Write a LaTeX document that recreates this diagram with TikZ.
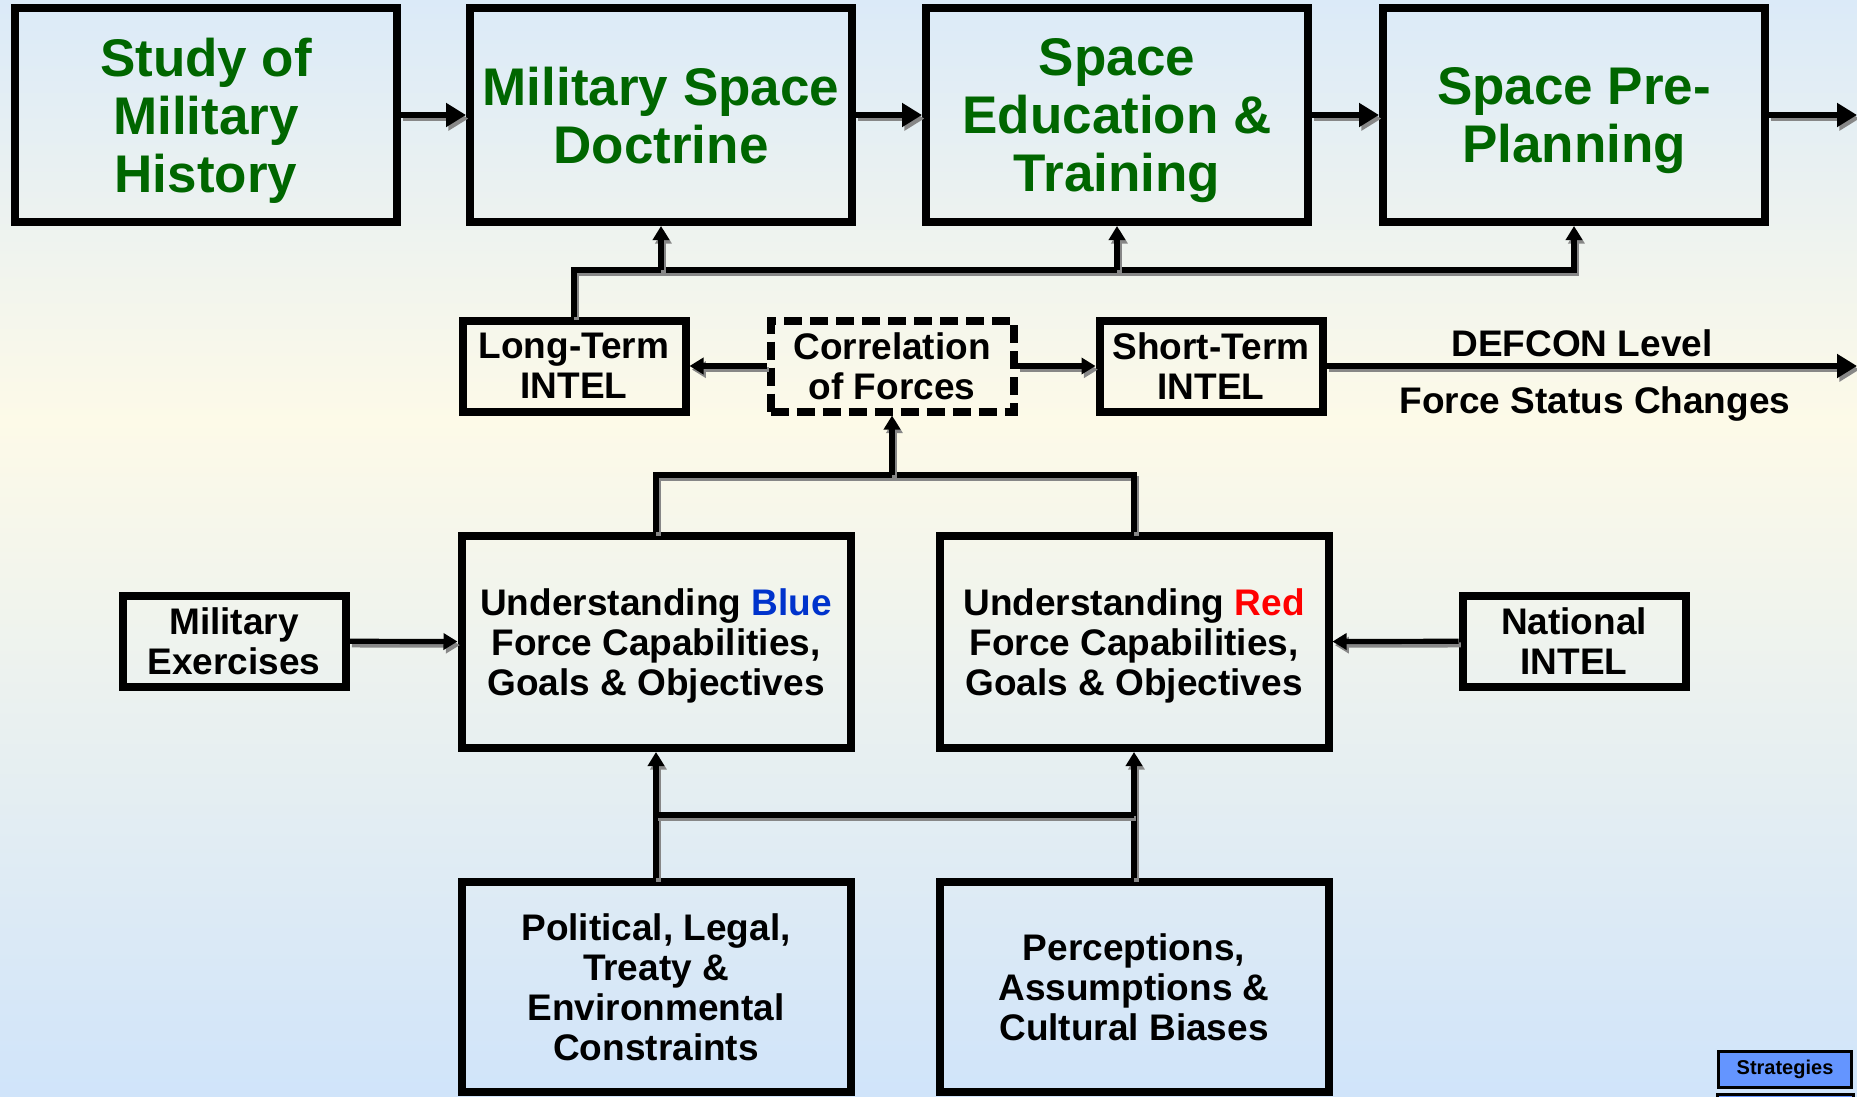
\documentclass[tikz,border=0pt]{standalone}
\usepackage{fontspec}
\setmainfont{Liberation Sans}
\usetikzlibrary{arrows.meta}
\definecolor{bgtop}{RGB}{219,234,248}
\definecolor{bgmid}{RGB}{253,250,232}
\definecolor{bgbot}{RGB}{208,228,250}
\definecolor{titlegreen}{RGB}{0,102,0}
\definecolor{blueword}{RGB}{0,51,204}
\definecolor{redword}{RGB}{255,0,0}
\definecolor{btnblue}{RGB}{100,149,255}
\definecolor{shadowgray}{RGB}{135,135,135}
\begin{document}
\begin{tikzpicture}[x=0.5pt,y=-0.5pt,
  box/.style={draw=black, line width=4pt, inner sep=0pt, align=center, text depth=0pt},
  stage/.style={box, minimum width=191pt, minimum height=107pt, text=titlegreen,
    font={\bfseries\fontsize{26.5pt}{29pt}\selectfont}},
  blk/.style={font={\bfseries\fontsize{18.5pt}{20pt}\selectfont}},
  smallbox/.style={box, blk, minimum width=111.5pt, minimum height=45.5pt},
  corrbox/.style={box, blk, minimum width=121.5pt, minimum height=45.5pt,
    dash pattern=on 9pt off 4pt},
  midbox/.style={box, blk, minimum width=194.5pt, minimum height=106pt},
  lbl/.style={blk, inner sep=0pt},
  btn/.style={draw=black, line width=1.5pt, fill=btnblue, inner sep=0pt,
    minimum width=66.5pt, minimum height=18pt,
    font={\bfseries\fontsize{10pt}{12pt}\selectfont}},
  conn/.style={line width=2.6pt, line join=miter,
    preaction={draw=shadowgray, line width=2.6pt, transform canvas={xshift=1.2pt,yshift=-1.8pt}}},
  bigtip/.style={-{Triangle[length=10pt,width=11.5pt]}},
  tip/.style={-{Triangle[length=7pt,width=8pt]}},
]
\useasboundingbox (0,0) rectangle (1857,1097);
\clip (0,0) rectangle (1857,1097);
% background
\shade[top color=bgtop, bottom color=bgmid] (0,0) rectangle (1857,421);
\shade[top color=bgmid, bottom color=bgbot] (0,420) rectangle (1857,1097);

% top row
\node[stage] (b1) at (206,115) {Study of\\Military\\History};
\node[stage] (b2) at (661,115) {Military Space\\Doctrine};
\node[stage] (b3) at (1117,115) {Space\\Education \&\\Training};
\node[stage] (b4) at (1574,115) {Space Pre-\\Planning};
\coordinate (outtop) at (1857,115);

% intel row
\node[smallbox] (lt) at (574,366) {Long-Term\\INTEL};
\node[corrbox] (cf) at (892,366) {Correlation\\of Forces};
\node[smallbox] (st) at (1211,366) {Short-Term\\INTEL};
\coordinate (outmid) at (1857,366);
\node[lbl] (defcon) at (1582,343) {DEFCON Level};
\node[lbl] (fsc) at (1595,404) {Force Status Changes};

% understanding row
\node[midbox] (blue) at (656,642) {Understanding {\color{blueword}Blue}\\Force Capabilities,\\Goals \& Objectives};
\node[midbox] (red) at (1134,642) {Understanding {\color{redword}Red}\\Force Capabilities,\\Goals \& Objectives};
\node[smallbox] (mx) at (234,641) {Military\\Exercises};
\node[smallbox] (ni) at (1574,641) {National\\INTEL};

% bottom row
\node[midbox, minimum height=105pt] (pol) at (656,987) {Political, Legal,\\Treaty \&\\Environmental\\Constraints};
\node[midbox, minimum height=105pt] (per) at (1134,987) {Perceptions,\\Assumptions \&\\Cultural Biases};

% button
\node[btn] (strat) at (1785,1069.5) {Strategies};
\draw[line width=1.5pt, fill=btnblue] (1717,1094) rectangle (1853,1130);

% connectors: top row
\draw[conn, bigtip] (b1) -- (b2);
\draw[conn, bigtip] (b2) -- (b3);
\draw[conn, bigtip] (b3) -- (b4);
\draw[conn, bigtip] (b4) -- (outtop);

\coordinate (jt) at (574,270);
\draw[conn, tip] (lt.north) -- (jt) -| (b4.south);
\draw[conn, tip] (b2.south |- jt) -- (b2.south);
\draw[conn, tip] (b3.south |- jt) -- (b3.south);

% intel row
\draw[conn, tip] (cf) -- (lt);
\draw[conn, tip] (cf) -- (st);
\draw[conn, bigtip] (st) -- (outmid);

% understanding join
\coordinate (jc) at (656,475);
\draw[conn] (blue.north) -- (jc) -| (red.north);
\draw[conn, tip] (cf.south |- jc) -- (cf.south);
\draw[conn, tip] (mx) -- (blue);
\draw[conn, tip] (ni) -- (red);

% bottom join
\coordinate (jb) at (656,815);
\draw[conn, tip] (pol.north) -- (blue.south);
\draw[conn, tip] (per.north) -- (red.south);
\draw[conn] (jb) -- (per.north |- jb);
\end{tikzpicture}
\end{document}
